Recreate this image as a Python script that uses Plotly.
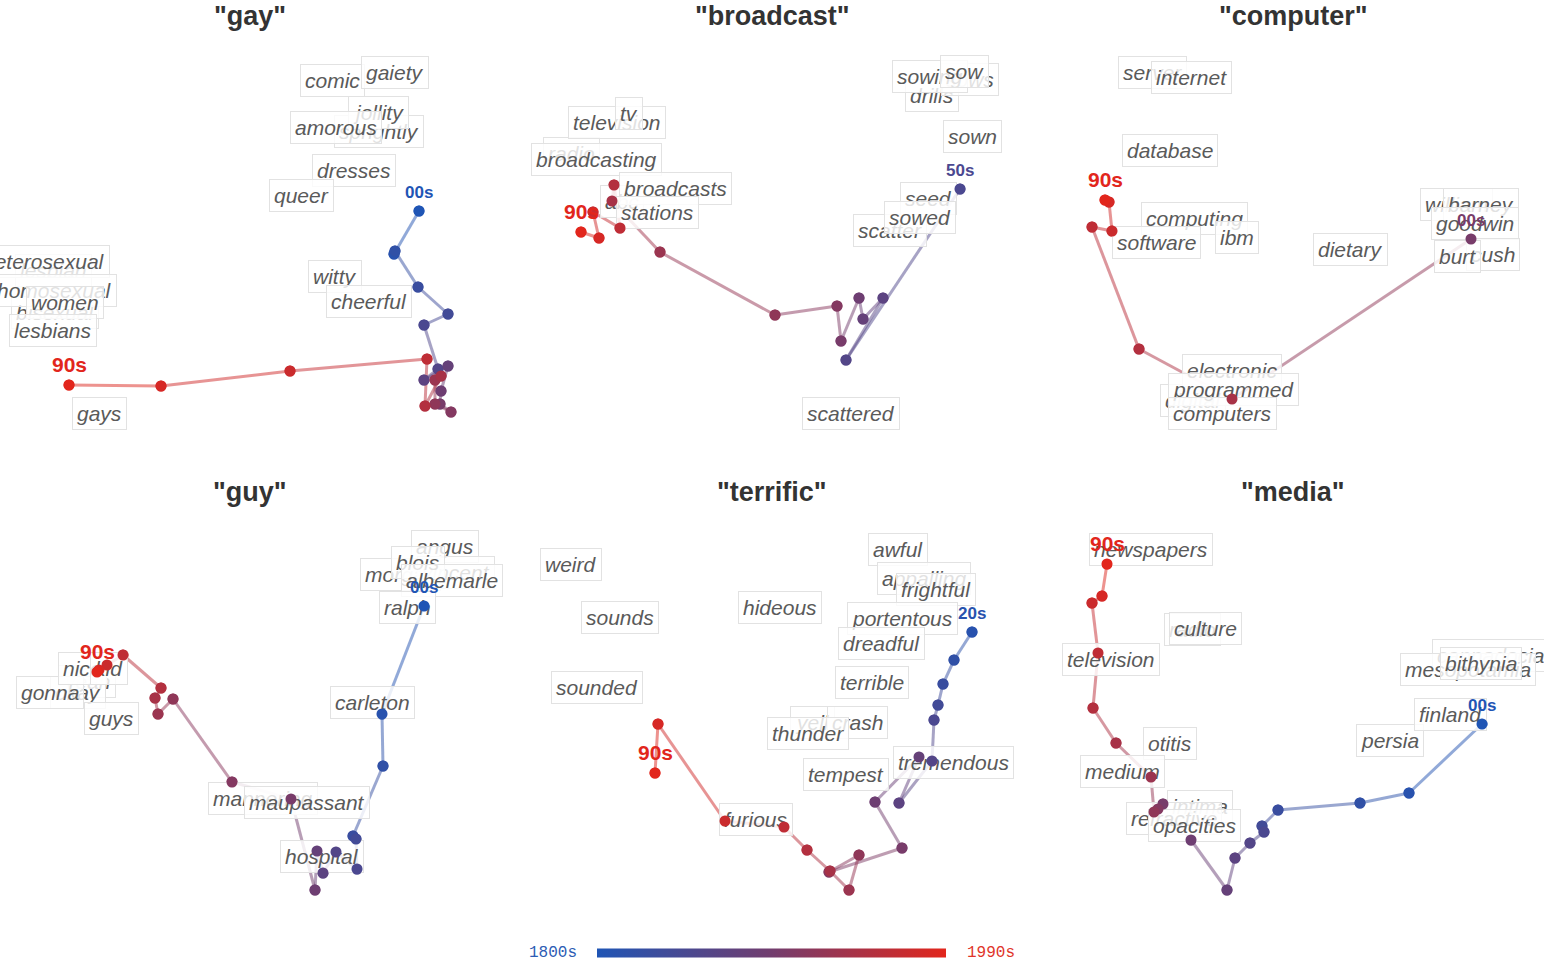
import plotly.graph_objects as go

# ------------------------------------------------------------------ data
TITLES = ['"gay"', '"broadcast"', '"computer"', '"guy"', '"terrific"', '"media"']
START_LABELS = ["00s", "50s", "00s", "00s", "20s", "00s"]
END_LABELS = ["90s", "90s", "90s", "90s", "90s", "90s"]
SCALE_LABELS = ["1800s", "1990s"]

# --- "gay"
gay_decades = [1800, 1810, 1820, 1830, 1840, 1850, 1860, 1870, 1880, 1890,
               1900, 1910, 1920, 1930, 1940, 1950, 1960, 1970, 1980, 1990]
gay_x = [169, 144, 145, 168, 198, 174, 188, 174, 198, 191, 190, 201, 185, 185, 191, 175, 177, 40, -89, -181]
gay_y = [195, 238, 235, 271, 298, 309, 353, 364, 350, 375, 388, 396, 388, 364, 360, 390, 343, 355, 370, 369]
gay_words = ["sprightly", "jollity", "amorous", "comic", "gaiety", "dresses", "queer", "witty",
             "cheerful", "lesbian", "heterosexual", "bisexual", "homosexual", "women", "lesbians", "gays"]
gay_wx = [129, 128, 86, 82, 145, 104, 51, 85, 119, -197, -206, -195, -196, -185, -197, -151]
gay_wy = [115, 96, 111, 64, 56, 154, 179, 260, 285, 254, 245, 296, 274, 286, 314, 397]

# --- "broadcast"
broadcast_decades = [1850, 1860, 1870, 1880, 1890, 1900, 1910, 1920, 1930, 1940,
                     1950, 1960, 1970, 1980, 1990]
broadcast_x = [188, 74, 111, 91, 87, 69, 65, 3, -112, -160, -158, -152, -179, -173, -191]
broadcast_y = [173, 344, 282, 303, 282, 325, 290, 299, 236, 185, 169, 212, 196, 222, 216]
broadcast_words = ["radio", "broadcasting", "television", "tv", "abc", "broadcasts", "stations",
                   "drills", "sows", "sowing", "sow", "sown", "scatter", "seed", "sowed", "scattered"]
broadcast_wx = [-201, -176, -155, -143, -150, -97, -115, 160, 198, 158, 192, 200, 118, 156, 148, 79]
broadcast_wy = [137, 143, 106, 97, 185, 172, 196, 79, 63, 60, 55, 120, 214, 182, 201, 397]

# --- "computer"
computer_decades = [1900, 1940, 1950, 1960, 1970, 1980, 1990]
computer_x = [178, -61, -154, -201, -181, -184, -188]
computer_y = [223, 383, 333, 211, 215, 186, 184]
computer_words = ["server", "internet", "database", "computing", "software", "ibm", "dietary",
                  "william", "barney", "goodwin", "cush", "burt", "digital", "electronic",
                  "programmed", "computers"]
computer_wx = [-141, -102, -123, -99, -137, -56, 57, 163, 188, 182, 200, 164, -100, -61, -60, -71]
computer_wy = [56, 61, 134, 202, 226, 221, 233, 188, 188, 207, 238, 240, 384, 354, 373, 397]

# --- "guy"
guy_decades = [1800, 1810, 1820, 1830, 1840, 1850, 1860, 1870, 1880, 1890,
               1900, 1910, 1920, 1930, 1940, 1950, 1960, 1970, 1980, 1990]
guy_x = [174, 132, 133, 103, 106, 107, 86, 73, 67, 65, 41, -18, -77, -92, -95, -89, -127, -143, -151, -153]
guy_y = [114, 222, 274, 344, 347, 377, 360, 381, 359, 398, 307, 290, 207, 222, 206, 196, 163, 173, 178, 180]
guy_words = ["angus", "morgan", "vincent", "blois", "albemarle", "ralph", "carleton", "mannering",
             "maupassant", "hospital", "yeah", "okay", "gonna", "nice", "kid", "guys"]
guy_wx = [195, 150, 206, 168, 202, 157, 122, 13, 57, 72, -163, -172, -200, -168, -141, -139]
guy_wy = [54, 82, 80, 70, 88, 115, 210, 306, 310, 364, 189, 200, 200, 176, 176, 226]

# --- "terrific"
terrific_decades = [1810, 1820, 1830, 1840, 1850, 1860, 1870, 1880, 1890, 1900,
                    1910, 1920, 1930, 1940, 1950, 1960, 1970, 1980, 1990]
terrific_x = [200, 182, 171, 166, 162, 160, 127, 147, 103, 130, 57, 87, 77, 58, 35, 12, -47, -114, -117]
terrific_y = [140, 168, 192, 213, 228, 269, 311, 265, 310, 356, 380, 363, 398, 379, 358, 335, 329, 232, 281]
terrific_words = ["awful", "appalling", "frightful", "portentous", "dreadful", "terrible", "yell",
                  "crash", "thunder", "tempest", "tremendous", "furious", "weird", "sounds",
                  "sounded", "hideous"]
terrific_wx = [126, 152, 164, 130, 109, 100, 40, 85, 36, 74, 181, -16, -201, -152, -175, 8]
terrific_wy = [57, 86, 97, 126, 151, 190, 230, 230, 241, 282, 270, 327, 72, 125, 195, 115]

# --- "media"
media_decades = [1800, 1810, 1820, 1830, 1840, 1850, 1860, 1870, 1880, 1890,
                 1900, 1910, 1920, 1930, 1940, 1950, 1960, 1970, 1980, 1990]
media_x = [189, 116, 67, -15, -31, -29, -43, -58, -66, -102, -130, -135, -139, -142, -177, -200, -195, -201, -191, -186]
media_y = [232, 301, 311, 318, 334, 340, 351, 366, 398, 348, 312, 317, 320, 285, 251, 216, 161, 111, 104, 72]
media_words = ["newspapers", "radio", "culture", "television", "otitis", "medium", "intima",
               "refractive", "opacities", "cappadocia", "mesopotamia", "bithynia", "persia", "finland"]
media_wx = [-142, -101, -88, -182, -123, -171, -93, -119, -99, 197, 175, 188, 97, 157]
media_wy = [57, 137, 136, 167, 251, 279, 314, 326, 333, 163, 177, 171, 248, 222]

PANELS = [
    (gay_decades, gay_x, gay_y, gay_words, gay_wx, gay_wy),
    (broadcast_decades, broadcast_x, broadcast_y, broadcast_words, broadcast_wx, broadcast_wy),
    (computer_decades, computer_x, computer_y, computer_words, computer_wx, computer_wy),
    (guy_decades, guy_x, guy_y, guy_words, guy_wx, guy_wy),
    (terrific_decades, terrific_x, terrific_y, terrific_words, terrific_wx, terrific_wy),
    (media_decades, media_x, media_y, media_words, media_wx, media_wy),
]

# ------------------------------------------------------------------ layout / style
D_MIN, D_MAX = 1800, 1990
W, H = 1544, 965
ANCHOR_X = [250, 772, 1293, 250, 772, 1293]   # panel title centres (page px)
ANCHOR_Y = [16, 16, 16, 492, 492, 492]

CS = [[0.0, "#1f55b5"], [0.5, "#723d6e"], [1.0, "#e2261c"]]
WORD_FONT = "Liberation Sans, Arial, sans-serif"
MONO_FONT = "Liberation Mono, DejaVu Sans Mono, monospace"
DOT_D = 11                    # dot diameter in px


def _rgb(h):
    return [int(h[i:i + 2], 16) for i in (1, 3, 5)]


def color_at(dec, alpha=1.0):
    t = min(max((dec - D_MIN) / (D_MAX - D_MIN), 0.0), 1.0)
    for (t0, c0), (t1, c1) in zip(CS[:-1], CS[1:]):
        if t <= t1:
            f = (t - t0) / (t1 - t0)
            a, b = _rgb(c0), _rgb(c1)
            r, g, bl = [round(a[i] + (b[i] - a[i]) * f) for i in range(3)]
            return f"rgba({r},{g},{bl},{alpha})"


fig = go.Figure()
annotations = []
layout_axes = {}

for k, (dec, xs, ys, words, wx, wy) in enumerate(PANELS):
    n = k + 1
    xa = "x" if n == 1 else f"x{n}"
    ya = "y" if n == 1 else f"y{n}"
    ox, oy = ANCHOR_X[k], ANCHOR_Y[k]
    layout_axes["xaxis" if n == 1 else f"xaxis{n}"] = dict(
        domain=[0, 1], range=[-ox, W - ox], visible=False, fixedrange=True,
        anchor=ya, **({} if n == 1 else {"overlaying": "x"}))
    layout_axes["yaxis" if n == 1 else f"yaxis{n}"] = dict(
        domain=[0, 1], range=[H - oy, -oy], visible=False, fixedrange=True,
        anchor=xa, **({} if n == 1 else {"overlaying": "y"}))

    # trajectory segments
    for i in range(len(xs) - 1):
        fig.add_trace(go.Scatter(
            x=[xs[i], xs[i + 1]], y=[ys[i], ys[i + 1]], mode="lines",
            line=dict(color=color_at((dec[i] + dec[i + 1]) / 2, 0.5), width=3),
            hoverinfo="skip", xaxis=xa, yaxis=ya, showlegend=False))
    # decade points
    marker = dict(size=DOT_D, color=dec, colorscale=CS, cmin=D_MIN, cmax=D_MAX,
                  line=dict(width=0))
    if k == 0:
        marker.update(showscale=True, colorbar=dict(
            orientation="h", x=771.5 / W, xanchor="center",
            y=1 - 952.5 / H, yanchor="middle",
            len=349, lenmode="pixels", thickness=9, thicknessmode="pixels",
            showticklabels=False, ticks="", outlinewidth=0, xpad=0, ypad=0))
    fig.add_trace(go.Scatter(x=xs, y=ys, mode="markers", marker=marker,
                             xaxis=xa, yaxis=ya, showlegend=False,
                             text=[str(d) + "s" for d in dec], hoverinfo="text"))

    # title
    annotations.append(dict(x=0, y=0, xref=xa, yref=ya, showarrow=False,
                            text=f"<b>{TITLES[k]}</b>",
                            font=dict(family=WORD_FONT, size=27, color="#333333")))
    # neighbour words
    for w, x, y in zip(words, wx, wy):
        annotations.append(dict(
            x=x, y=y, xref=xa, yref=ya, showarrow=False, text=f"<i>{w}</i>",
            font=dict(family=WORD_FONT, size=21, color="#5a5a5a"),
            bgcolor="rgba(255,255,255,0.82)", bordercolor="#e2e2e2",
            borderwidth=1, borderpad=4))
    # decade dots repeated above the word boxes (round arrow heads, no text)
    for d, x, y in zip(dec, xs, ys):
        annotations.append(dict(x=x, y=y, xref=xa, yref=ya, text="", showarrow=True,
                                ax=0, ay=-3, arrowhead=6, arrowsize=DOT_D / 4.0,
                                arrowwidth=1, standoff=0, arrowcolor=color_at(d),
                                font=dict(size=2)))
    # start / end decade labels
    annotations.append(dict(x=xs[0], y=ys[0], xref=xa, yref=ya, showarrow=False,
                            yshift=19, text=f"<b>{START_LABELS[k]}</b>",
                            font=dict(family=WORD_FONT, size=17, color=color_at(dec[0]))))
    annotations.append(dict(x=xs[-1], y=ys[-1], xref=xa, yref=ya, showarrow=False,
                            yshift=21, text=f"<b>{END_LABELS[k]}</b>",
                            font=dict(family=WORD_FONT, size=21, color=color_at(dec[-1]))))

# colour-scale end labels
for lbl, px, c in zip(SCALE_LABELS, [553, 991], ["#2c5cb4", "#e0342a"]):
    annotations.append(dict(x=px / W, y=1 - 953 / H, xref="paper", yref="paper",
                            xanchor="center", yanchor="middle", showarrow=False, text=lbl,
                            font=dict(family=MONO_FONT, size=16, color=c)))

fig.update_layout(
    width=W, height=H, margin=dict(l=0, r=0, t=0, b=0, pad=0),
    paper_bgcolor="white", plot_bgcolor="white", showlegend=False,
    annotations=annotations, **layout_axes)

fig.write_html("out.html", config={"displayModeBar": False},
               post_script="document.body.style.margin='0px';")
